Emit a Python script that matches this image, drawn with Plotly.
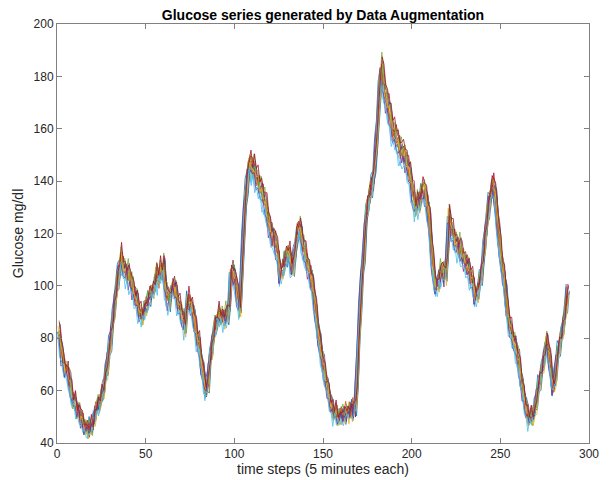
import plotly.graph_objects as go

# Base glucose curve (one value per 5-minute time step)
glucose_base = [
    82, 78, 72, 70, 67, 68, 63, 60, 56, 57,
    53, 51, 52, 48, 47, 45, 46, 44, 47, 46,
    50, 53, 54, 55, 58, 60, 64, 68, 73, 78, 84,
    90, 96, 101, 106, 111, 108, 106, 104, 105, 101,
    102, 98, 96, 94, 91, 89, 88, 90, 92, 93,
    95, 97, 98, 100, 104, 102, 106, 105, 108, 100,
    96, 93, 96, 99, 100, 97, 94, 92, 90, 87,
    84, 90, 95, 93, 92, 89, 84, 80, 78, 73,
    68, 64, 59, 62, 70, 75, 80, 84, 86, 89,
    88, 88, 87, 89, 88, 91, 104, 106, 102, 101, 95,
    91, 104, 118, 130, 138, 145, 147, 144, 145, 142,
    140, 138, 137, 134, 132, 130, 126, 122, 120, 117,
    118, 113, 110, 103, 106, 108, 110, 112, 113, 108,
    106, 112, 118, 121, 122, 118, 114, 112, 109, 106,
    104, 100, 96, 90, 84, 79, 74, 70, 66, 63,
    60, 56, 53, 51, 52, 50, 49, 51, 50, 50, 52,
    51, 53, 51, 54, 52, 62, 78, 92, 104, 112,
    124, 130, 134, 136, 140, 145, 155, 165, 176, 183,
    178, 174, 170, 168, 164, 160, 158, 157, 155, 152,
    151, 150, 150, 147, 145, 142, 138, 134, 129, 132, 131,
    133, 136, 137, 134, 130, 125, 116, 108, 102, 99,
    101, 105, 104, 106, 103, 112, 126, 123, 120, 118,
    116, 114, 115, 112, 111, 109, 108, 106, 104, 102,
    100, 95, 97, 100, 103, 108, 116, 122, 128, 133,
    136, 139, 135, 128, 120, 114, 108, 104, 98, 90,
    86, 83, 80, 78, 75, 72, 68, 63, 59, 55,
    51, 49, 50, 50, 51, 55, 59, 63, 66, 70, 74,
    78, 76, 71, 65, 60, 66, 72, 76, 79, 83,
    87, 92, 98,
]
time_steps = list(range(1, len(glucose_base) + 1))

# Estimated per-series augmentation parameters (the width of the coloured band)
series_shift = [-0.9, 0.5, -0.4, 0.8, 0.0, -0.6, 0.3, 0.9, -0.2, 0.6, -0.8, 0.2, -0.5, 0.4]
series_gain = [1.00, 0.98, 1.02, 0.99, 1.01, 0.975, 1.025, 1.0, 0.985, 1.015, 0.99, 1.01, 0.98, 1.02]
series_offset = [0.5, 1.5, -1.5, 2.0, -2.0, 1.0, -1.0, -0.5, 2.5, -2.5, 0.0, 1.8, -1.2, 0.8]
jitter_pattern = [0.0, 2.2, -1.6, 1.1, -2.4, 1.7, -0.8, 2.6, -1.9, 0.6, -1.2]
series_phase = [0, 3, 7, 1, 5, 9, 2, 8, 4, 10, 6, 1, 3, 5]

colors = ["#0072BD", "#D95319", "#EDB120", "#7E2F8E", "#77AC30", "#4DBEEE", "#A2142F"]

fig = go.Figure()
n_p = len(jitter_pattern)
for k in range(len(series_shift)):
    xs = [t + series_shift[k] for t in time_steps]
    ys = [
        v * series_gain[k] + series_offset[k] + jitter_pattern[(i + series_phase[k]) % n_p]
        for i, v in enumerate(glucose_base)
    ]
    fig.add_trace(go.Scatter(
        x=xs, y=ys, mode="lines",
        line=dict(color=colors[k % len(colors)], width=0.8),
        showlegend=False, hoverinfo="skip",
    ))

FONT = "Liberation Sans, Arial, Helvetica"
axis_common = dict(
    showgrid=False, zeroline=False, showline=True, mirror="ticks",
    linecolor="#808080", linewidth=1, ticks="inside", ticklen=5,
    tickcolor="#808080", automargin=False,
    tickfont=dict(family=FONT, size=12, color="#262626"),
)

# The page adds an 8px body margin, so the figure is sized to fit the window with it.
fig.update_layout(
    width=607, height=472,
    margin=dict(l=49, r=26, t=16, b=37),
    paper_bgcolor="white", plot_bgcolor="white",
    title=dict(
        text="<b>Glucose series generated by Data Augmentation</b>",
        font=dict(family=FONT, size=14, color="black"),
        x=(49 + 581) / 2 / 607, xanchor="center",
        y=1 - 7 / 472, yanchor="middle", yref="container",
    ),
    xaxis=dict(
        range=[0, 300], tickvals=[0, 50, 100, 150, 200, 250, 300],
        title=dict(text="time steps (5 minutes each)", standoff=0,
                   font=dict(family=FONT, size=14, color="#262626")),
        **axis_common,
    ),
    yaxis=dict(
        range=[40, 200], tickvals=[40, 60, 80, 100, 120, 140, 160, 180, 200],
        title=dict(text="Glucose mg/dl", standoff=6,
                   font=dict(family=FONT, size=14, color="#262626")),
        **axis_common,
    ),
)

fig.write_html("out.html")
